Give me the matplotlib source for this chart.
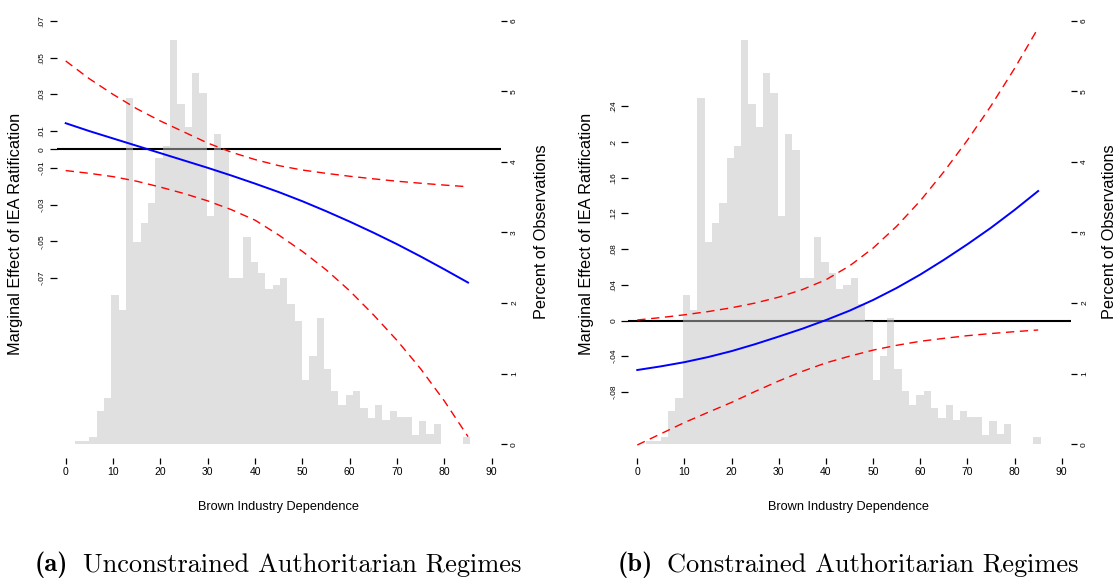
import matplotlib
matplotlib.use('Agg')
import matplotlib.pyplot as plt
import matplotlib.transforms as mtransforms
import numpy as np

# histogram of brown industry dependence (percent of observations), same in both panels
pct_obs = [0.05, 0.04, 0.11, 0.47, 0.65, 2.11, 1.90, 4.90, 2.87, 3.13,
           3.42, 4.06, 4.23, 5.73, 4.82, 4.49, 5.26, 4.98, 3.23, 4.40,
           4.16, 2.35, 2.35, 2.93, 2.58, 2.42, 2.20, 2.25, 2.35, 1.98,
           1.74, 0.91, 1.25, 1.79, 1.07, 0.76, 0.55, 0.70, 0.76, 0.51,
           0.37, 0.55, 0.35, 0.47, 0.38, 0.39, 0.13, 0.33, 0.15, 0.29,
           0.00, 0.00, 0.01, 0.10]
hist_start = 1.9
hist_end = 85.5

x_me = [0, 5, 10, 15, 20, 25, 30, 35, 40, 45, 50, 55, 60, 65, 70, 75, 80, 85]

# (a) unconstrained
me_a = [.0143, .0100, .0060, .0020, -.0020, -.0060, -.0100, -.0142, -.0186,
        -.0232, -.0282, -.0336, -.0393, -.0453, -.0516, -.0583, -.0653, -.0725]
hi_a = [.0482, .0385, .0300, .0222, .0155, .0095, .0035, -.0015, -.0055,
        -.0088, -.0112, -.0130, -.0146, -.0160, -.0173, -.0184, -.0194, -.0203]
lo_a = [-.0115, -.0130, -.0148, -.0173, -.0205, -.0240, -.0280, -.0328, -.0385,
        -.0466, -.0555, -.0655, -.0770, -.0900, -.1040, -.1195, -.1370, -.1564]

# (b) constrained
me_b = [-.0555, -.0514, -.0467, -.0410, -.0343, -.0265, -.0180, -.0092, .0005,
        .0110, .0230, .0365, .0515, .0680, .0855, .1040, .1240, .1452]
hi_b = [.0006, .0033, .0064, .0100, .0143, .0196, .0262, .0347, .0457,
        .0612, .0812, .1057, .1342, .1667, .2022, .2407, .2827, .3280]
lo_b = [-.1396, -.1270, -.1144, -.1030, -.0918, -.0795, -.0678, -.0570, -.0475,
        -.0400, -.0332, -.0278, -.0233, -.0200, -.0170, -.0146, -.0125, -.0106]

yt_a = [.07, .05, .03, .01, 0, -.01, -.03, -.05, -.07]
ytl_a = ['.07', '.05', '.03', '.01', '0', '-.01', '-.03', '-.05', '-.07']
yt_b = [.24, .2, .16, .12, .08, .04, 0, -.04, -.08]
ytl_b = ['.24', '.2', '.16', '.12', '.08', '.04', '0', '-.04', '-.08']

W, H = 1115, 579
plt.rcParams['font.family'] = ['Liberation Sans', 'DejaVu Sans']

fig = plt.figure(figsize=(W / 100, H / 100), dpi=100)


def panel(left_px, right_px, ylim, me, hi, lo, yt, ytl):
    bottom_px, top_px = 458.3, 6.6
    ax = fig.add_axes([left_px / W, 1 - bottom_px / H,
                       (right_px - left_px) / W, (bottom_px - top_px) / H])
    ax2 = ax.twinx()
    ax.set_zorder(ax2.get_zorder() + 1)
    ax.patch.set_visible(False)

    # zero line sits under the (semi transparent) bars
    tr = mtransforms.blended_transform_factory(ax2.transAxes, ax.transData)
    ax2.plot([0, 1], [0, 0], color='black', lw=1.5, transform=tr, zorder=1)
    nb = len(pct_obs)
    bw = (hist_end - hist_start) / nb
    edges = hist_start + bw * np.arange(nb)
    ax2.bar(edges, pct_obs, width=bw, align='edge', color=(0.76, 0.76, 0.76),
            alpha=0.5, linewidth=0, zorder=2)
    ax2.set_ylim(-0.198, 6.197)
    ax2.set_yticks(range(7))
    ax2.set_yticklabels([str(i) for i in range(7)], rotation=90, va='center',
                        fontsize=6)

    ax.plot(x_me, hi, color='red', lw=1.0, dashes=(6, 4))
    ax.plot(x_me, lo, color='red', lw=1.0, dashes=(6, 4))
    ax.plot(x_me, me, color='blue', lw=1.4)
    ax.set_ylim(*ylim)
    ax.set_xlim(-1.9, 91.9)
    ax.set_yticks(yt)
    ax.set_yticklabels(ytl, rotation=90, va='center', fontsize=6)
    ax.set_xticks(range(0, 100, 10))
    ax.set_xticklabels([str(i) for i in range(0, 100, 10)], fontsize=7.5)
    ax.tick_params(axis='y', length=5, width=0.9, pad=3)
    ax.tick_params(axis='x', length=4.5, width=0.9, pad=2)
    ax2.tick_params(axis='y', length=4.5, width=0.9, pad=3)
    for a in (ax, ax2):
        for s in a.spines.values():
            s.set_visible(False)
    return ax


panel(56.7, 500.7, (-0.1682, 0.0778), me_a, hi_a, lo_a, yt_a, ytl_a)
panel(628.3, 1070.7, (-0.1545, 0.352), me_b, hi_b, lo_b, yt_b, ytl_b)

for xc in (278.5, 849):
    fig.text(xc / W, 1 - 507 / H, 'Brown Industry Dependence', ha='center',
             va='center', fontsize=9.2)
for xl, xr in ((16, 541), (586, 1109)):
    fig.text(xl / W, 1 - 234 / H, 'Marginal Effect of IEA Ratification',
             rotation=90, ha='center', va='center', fontsize=11.7)
    fig.text(xr / W, 1 - 232 / H, 'Percent of Observations',
             rotation=90, ha='center', va='center', fontsize=11.7)

# sub captions
fig.text(35 / W, 1 - 565 / H, '(a)', family='cmb10', fontsize=19,
         ha='left', va='center')
fig.text(83 / W, 1 - 565 / H, 'Unconstrained Authoritarian Regimes',
         family='cmr10', fontsize=19, ha='left', va='center')
fig.text(618 / W, 1 - 565 / H, '(b)', family='cmb10', fontsize=19,
         ha='left', va='center')
fig.text(667 / W, 1 - 565 / H, 'Constrained Authoritarian Regimes',
         family='cmr10', fontsize=19, ha='left', va='center')

fig.savefig('out.png', dpi=100)
